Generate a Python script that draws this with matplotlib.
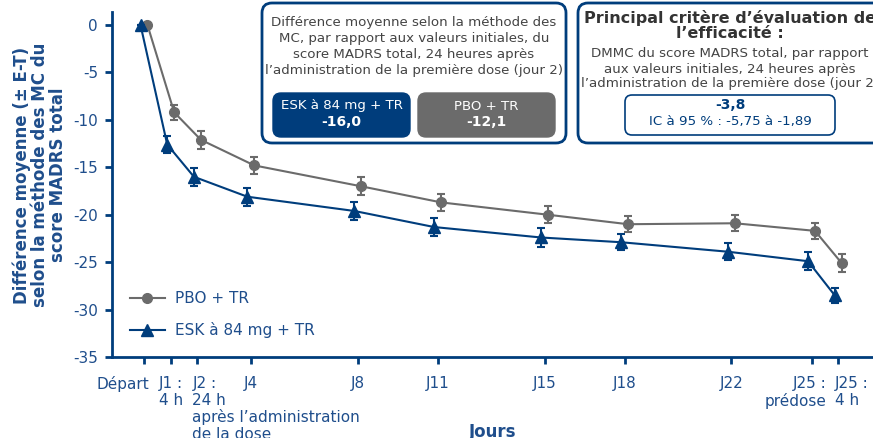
import matplotlib.pyplot as plt
from matplotlib.lines import Line2D
from matplotlib.patches import FancyBboxPatch
from matplotlib.transforms import ScaledTranslation

# data
jours = [0, 1, 2, 4, 8, 11, 15, 18, 22, 25, 26]
jour_labels = ["Départ", "J1 :\n4 h", "J2 :\n24 h\naprès l’administration\nde la dose",
               "J4", "J8", "J11", "J15", "J18", "J22", "J25 :\nprédose", "J25 :\n4 h"]
pbo = [0, -9.2, -12.1, -14.8, -17.0, -18.7, -20.0, -21.0, -20.9, -21.7, -25.1]
pbo_err = [0, 0.8, 0.95, 0.9, 0.95, 0.88, 0.9, 0.87, 0.85, 0.85, 0.94]
esk = [0, -12.6, -16.0, -18.1, -19.6, -21.3, -22.4, -22.9, -23.9, -24.9, -28.5]
esk_err = [0, 0.88, 0.97, 0.97, 0.97, 0.97, 1.0, 0.83, 0.9, 0.94, 0.76]

navy = "#003d7c"
txt_blue = "#1f4e8c"
grey = "#6b6b6b"
dark = "#444444"

W, H = 873, 438
fig = plt.figure(figsize=(W / 100, H / 100), dpi=100)
plt.rcParams['font.family'] = ['DejaVu Sans']

# main axes, placed in pixels
x0, x1, y_top, y_bot = 112, 873, 12, 357
ax = fig.add_axes([x0 / W, (H - y_bot) / H, (x1 - x0) / W, (y_bot - y_top) / H])
px_day = 26.7
ax.set_xlim((x0 - 144) / px_day, (x1 - 144) / px_day)
ax.set_ylim(-35, (25 - y_top) / 9.457)

dx = 0.13
ax.errorbar([j + dx for j in jours], pbo, yerr=pbo_err, color=grey, marker="o",
            markersize=7, lw=1.5, elinewidth=1.5, capsize=3, capthick=1.5, zorder=3)
ax.errorbar([j - dx for j in jours], esk, yerr=esk_err, color=navy, marker="^",
            markersize=8.5, lw=1.5, elinewidth=1.5, capsize=3, capthick=1.5, zorder=4)

for s in ["top", "right"]:
    ax.spines[s].set_visible(False)
for s in ["left", "bottom"]:
    ax.spines[s].set_color(navy)
    ax.spines[s].set_linewidth(2)
ax.set_yticks(range(0, -36, -5))
ax.set_yticklabels([str(v) for v in range(0, -36, -5)])
ax.set_xticks(jours)
ax.set_xticklabels(jour_labels, linespacing=1.12)
ax.tick_params(colors=navy, labelcolor=txt_blue, labelsize=11, width=2, length=5)
ax.tick_params(axis="x", pad=9)
ax.tick_params(axis="y", pad=5)

labels = ax.get_xticklabels()
shifts = {0: ("right", 5), 2: ("left", -5), 9: ("right", 15), 10: ("left", -3)}
for i, (ha, off) in shifts.items():
    labels[i].set_ha(ha)
    labels[i].set_transform(labels[i].get_transform() + ScaledTranslation(off / 100, 0, fig.dpi_scale_trans))

fig.text(40 / W, 1 - 175 / H, "Différence moyenne (± E-T)\nselon la méthode des MC du\nscore MADRS total",
         fontsize=12, fontweight="bold", color=txt_blue, linespacing=1.0, rotation=90,
         ha="center", va="center", multialignment="center")
fig.text(493 / W, 1 - 432 / H, "Jours", fontsize=12, fontweight="bold", color=txt_blue,
         ha="center", va="center")

handles = [Line2D([], [], color=grey, marker="o", markersize=7, lw=1.5),
           Line2D([], [], color=navy, marker="^", markersize=8.5, lw=1.5)]
ax.legend(handles, ["PBO + TR", "ESK à 84 mg + TR"], loc="lower left",
          bbox_to_anchor=(0.005, 0.014), frameon=False, fontsize=11,
          labelspacing=1.05, handlelength=2.3, handletextpad=0.7, labelcolor=txt_blue)

# overlay in pixel coordinates for the boxes
ov = fig.add_axes([0, 0, 1, 1], zorder=5)
ov.set_xlim(0, W)
ov.set_ylim(H, 0)
ov.axis("off")


def rbox(x, y, w, h, fc, ec, lw=2, r=10):
    ov.add_patch(FancyBboxPatch((x + r, y + r), w - 2 * r, h - 2 * r,
                                boxstyle=f"round,pad={r}", fc=fc, ec=ec, lw=lw, clip_on=False))


rbox(262, 3, 304, 140, "white", navy)
ov.text(414, 46.5, "Différence moyenne selon la méthode des\nMC, par rapport aux valeurs initiales, du\n"
        "score MADRS total, 24 heures après\nl’administration de la première dose (jour 2)",
        ha="center", va="center", fontsize=9.6, color=dark, linespacing=1.32)
rbox(273, 93, 137, 44, navy, navy, lw=1, r=8)
ov.text(341.5, 106, "ESK à 84 mg + TR", ha="center", va="center", fontsize=9.6, color="white")
ov.text(341.5, 122, "-16,0", ha="center", va="center", fontsize=10, color="white", fontweight="bold")
rbox(418, 93, 137, 44, grey, grey, lw=1, r=8)
ov.text(486.5, 106, "PBO + TR", ha="center", va="center", fontsize=9.6, color="white")
ov.text(486.5, 122, "-12,1", ha="center", va="center", fontsize=10, color="white", fontweight="bold")

rbox(578, 3, 320, 140, "white", navy)
ov.text(730, 25, "Principal critère d’évaluation de\nl’efficacité :", ha="center", va="center",
        fontsize=11.5, fontweight="bold", color="#333333", linespacing=1.0, clip_on=False)
ov.text(730, 69, "DMMC du score MADRS total, par rapport\naux valeurs initiales, 24 heures après\n"
        "l’administration de la première dose (jour 2)", ha="center", va="center",
        fontsize=9.6, color=dark, linespacing=1.2, clip_on=False)
rbox(625, 95, 210, 40, "white", navy, lw=1.2, r=7)
ov.text(730, 105, "-3,8", ha="center", va="center", fontsize=10, color=navy, fontweight="bold")
ov.text(730, 121, "IC à 95 % : -5,75 à -1,89", ha="center", va="center", fontsize=9.6, color=navy)

fig.savefig("out.png", dpi=100)
